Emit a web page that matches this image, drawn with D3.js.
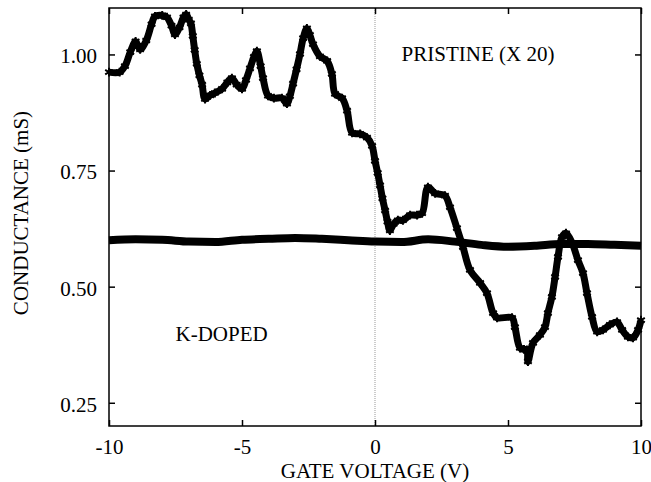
<!DOCTYPE html>
<html>
<head>
<meta charset="utf-8">
<script src="https://cdn.jsdelivr.net/npm/d3@7"></script>
<style>
  body { margin: 0; background: #fff; }
  svg { display: block; }
  svg text { font-family: 'Liberation Serif', 'Times New Roman', Times, 'DejaVu Serif', serif !important; }
</style>
</head>
<body>
<div id="viz"><svg></svg></div>
<script>
const fullWidth = 651;
const fullHeight = 482;

const margin = { top: 8, right: 10, bottom: 56, left: 109 },
  width = fullWidth - margin.left - margin.right,
  height = fullHeight - margin.top - margin.bottom;

const fontSize = 21;

// pristine sample (x 20)
const pristineVoltage = [
  -10.0, -9.6, -9.4, -9.2, -9.0, -8.83, -8.6, -8.4, -8.27, -8.0, -7.82, -7.65, -7.52, -7.35, -7.2, -7.1,
  -7.0, -6.92, -6.85, -6.78, -6.7, -6.6, -6.5, -6.39, -6.2, -6.02, -5.75, -5.55, -5.38, -5.2, -5.0, -4.85,
  -4.7, -4.55, -4.44, -4.3, -4.21, -4.02, -3.8, -3.5, -3.31, -3.2, -3.08, -2.95, -2.82, -2.7, -2.56, -2.45,
  -2.33, -2.07, -1.8, -1.62, -1.5, -1.24, -1.05, -0.86, -0.56, -0.3, -0.11, 0.0, 0.1, 0.19,
  0.28, 0.38, 0.47, 0.56, 0.7, 0.86, 1.05, 1.32, 1.58, 1.77, 1.99, 2.26, 2.63, 2.82, 3.08, 3.31,
  3.57, 3.95, 4.21, 4.44, 4.59, 5.15, 5.26, 5.45, 5.6, 5.71, 5.75, 5.94, 6.2, 6.39, 6.5, 6.65,
  6.77, 6.88, 7.03, 7.18, 7.41, 7.63, 7.82, 7.97, 8.16, 8.35, 8.57, 8.83, 9.1, 9.29, 9.51, 9.7,
  9.89, 10.0
];
const pristineConductance = [
  0.962, 0.962, 0.975, 1.005, 1.028, 1.011, 1.030, 1.065, 1.082, 1.084, 1.080, 1.062, 1.043, 1.058, 1.080, 1.086,
  1.075, 1.067, 1.040, 1.010, 0.980, 0.955, 0.935, 0.904, 0.912, 0.917, 0.926, 0.940, 0.949, 0.935, 0.926, 0.945,
  0.970, 0.995, 1.007, 0.975, 0.949, 0.911, 0.906, 0.906, 0.894, 0.910, 0.937, 0.968, 1.001, 1.035, 1.056, 1.042,
  1.022, 0.996, 0.986, 0.958, 0.915, 0.906, 0.879, 0.831, 0.829, 0.821, 0.803, 0.771, 0.745, 0.718,
  0.690, 0.664, 0.640, 0.621, 0.635, 0.643, 0.643, 0.654, 0.654, 0.658, 0.714, 0.701, 0.696, 0.671, 0.626, 0.585,
  0.536, 0.508, 0.486, 0.443, 0.433, 0.433, 0.413, 0.368, 0.365, 0.364, 0.339, 0.379, 0.396, 0.413, 0.443, 0.478,
  0.521, 0.564, 0.607, 0.615, 0.594, 0.557, 0.529, 0.486, 0.435, 0.403, 0.407, 0.418, 0.424, 0.407, 0.392, 0.390,
  0.407, 0.428
];

// K-doped sample
const dopedVoltage = [-10, -9, -8, -7, -6, -5, -4, -3, -2, -1, 0, 1, 2, 3, 4, 5, 6, 7, 8, 9, 10];
const dopedConductance = [
  0.600, 0.602, 0.601, 0.597, 0.596, 0.601, 0.603, 0.605, 0.603, 0.600, 0.597,
  0.596, 0.602, 0.597, 0.590, 0.586, 0.588, 0.592, 0.592, 0.590, 0.588
];

const xTicks = [-10, -5, 0, 5, 10];
const yTicks = [0.25, 0.50, 0.75, 1.00];

const pristine = pristineVoltage.map((v, i) => ({ v: v, g: pristineConductance[i] }));
const doped = dopedVoltage.map((v, i) => ({ v: v, g: dopedConductance[i] }));

const svg = d3.select('#viz svg')
  .attr('width', fullWidth)
  .attr('height', fullHeight);

const g = svg.append('g')
  .attr('transform', `translate(${margin.left},${margin.top})`);

const x = d3.scaleLinear().domain([-10, 10]).range([0, width]);
const y = d3.scaleLinear().domain([0.2, 1.1]).range([height, 0]);

// dotted zero line
g.append('line')
  .attr('x1', x(0)).attr('x2', x(0))
  .attr('y1', 0).attr('y2', height)
  .attr('stroke', '#999')
  .attr('stroke-width', 1)
  .attr('stroke-dasharray', '1,1');

// axes, ticks pointing inward
const tickStyle = sel => {
  sel.select('.domain').remove();
  sel.attr('font-family', null).attr('font-size', fontSize);
  sel.selectAll('.tick line').attr('stroke', '#000').attr('stroke-width', 1.5);
  sel.selectAll('.tick text').attr('fill', '#000');
};

g.append('g')
  .attr('transform', `translate(0,${height})`)
  .call(d3.axisBottom(x).tickValues(xTicks).tickSize(-6).tickPadding(13).tickFormat(d => String(d)))
  .call(tickStyle);

g.append('g')
  .call(d3.axisTop(x).tickValues(xTicks).tickSize(-6).tickFormat(''))
  .call(tickStyle);

g.append('g')
  .call(d3.axisLeft(y).tickValues(yTicks).tickSize(-6).tickPadding(12).tickFormat(d3.format('.2f')))
  .call(tickStyle)
  .call(s => s.selectAll('text').attr('dy', '0.4em'));

g.append('g')
  .attr('transform', `translate(${width},0)`)
  .call(d3.axisRight(y).tickValues(yTicks).tickSize(-6).tickFormat(''))
  .call(tickStyle);

g.append('rect')
  .attr('width', width)
  .attr('height', height)
  .attr('fill', 'none')
  .attr('stroke', '#000')
  .attr('stroke-width', 1.5);

// K-doped: thick band
g.append('path')
  .datum(doped)
  .attr('fill', 'none')
  .attr('stroke', '#000')
  .attr('stroke-width', 8)
  .attr('d', d3.line().x(d => x(d.v)).y(d => y(d.g)).curve(d3.curveMonotoneX));

// pristine: asterisks on a heavy trace
g.append('path')
  .datum(pristine)
  .attr('fill', 'none')
  .attr('stroke', '#000')
  .attr('stroke-width', 7)
  .attr('stroke-linejoin', 'round')
  .attr('d', d3.line().x(d => x(d.v)).y(d => y(d.g)).curve(d3.curveCatmullRom));

const star = d3.symbol(d3.symbolAsterisk).size(55);

g.selectAll('.star')
  .data(pristine)
  .enter().append('path')
  .attr('class', 'star')
  .attr('transform', d => `translate(${x(d.v)},${y(d.g)})`)
  .attr('d', star)
  .attr('fill', 'none')
  .attr('stroke', '#000')
  .attr('stroke-width', 2);

// labels
const label = (sel) => sel.attr('font-size', fontSize).attr('fill', '#000');

g.append('text')
  .attr('x', x(1.0))
  .attr('y', y(0.985))
  .call(label)
  .text('PRISTINE (X 20)');

g.append('text')
  .attr('x', x(-7.5))
  .attr('y', y(0.383))
  .call(label)
  .text('K-DOPED');

svg.append('text')
  .attr('x', margin.left + x(0))
  .attr('y', 478)
  .attr('text-anchor', 'middle')
  .call(label)
  .text('GATE VOLTAGE (V)');

svg.append('text')
  .attr('transform', 'translate(28,213) rotate(-90)')
  .attr('text-anchor', 'middle')
  .call(label)
  .text('CONDUCTANCE (mS)');
</script>
</body>
</html>
